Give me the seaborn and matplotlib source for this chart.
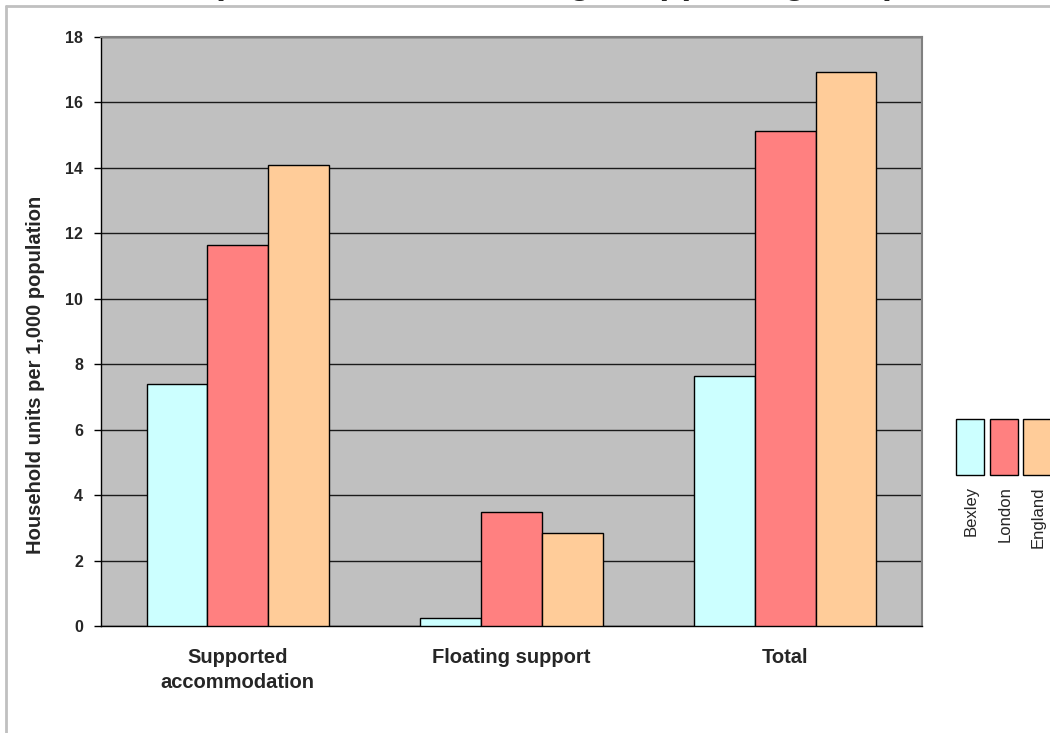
import matplotlib
matplotlib.use("Agg")
import matplotlib.pyplot as plt
from matplotlib.patches import Rectangle
from matplotlib.lines import Line2D
import pandas as pd
import seaborn as sns

# Household units per 1,000 population, by service type and area
categories = ["Supported\naccommodation", "Floating support", "Total"]
areas = ["Bexley", "London", "England"]
bexley = [7.40, 0.23, 7.64]
london = [11.65, 3.49, 15.14]
england = [14.10, 2.84, 16.92]
area_colors = ["#CCFFFF", "#FF8080", "#FFCC99"]
y_ticks = [0, 2, 4, 6, 8, 10, 12, 14, 16, 18]
title_text = "Comparison of all housing: Supporting People"
y_label = "Household units per 1,000 population"

sns.set_style("white")
plt.rcParams["font.family"] = ["Liberation Sans", "DejaVu Sans"]

rows = []
for area, vals in zip(areas, [bexley, london, england]):
    for cat, v in zip(categories, vals):
        rows.append({"category": cat, "area": area, "value": v})
df = pd.DataFrame(rows)
palette = dict(zip(areas, area_colors))

W, H = 1050, 733
fig = plt.figure(figsize=(W / 100, H / 100), dpi=100)
fig.patch.set_facecolor("white")

# chart-area frame
fig.add_artist(Line2D([6 / W, 1.0], [1 - 6 / H, 1 - 6 / H], transform=fig.transFigure,
                      color="#c0c0c0", lw=2))
fig.add_artist(Line2D([6 / W, 6 / W], [0.0, 1 - 6 / H], transform=fig.transFigure,
                      color="#c0c0c0", lw=2))

ax = fig.add_axes([101 / W, 1 - 626 / H, (922 - 101) / W, (626 - 37) / H])
ax.set_facecolor("#c0c0c0")

sns.barplot(data=df, x="category", y="value", hue="area", order=categories,
            hue_order=areas, palette=palette, width=2 / 3, gap=0, saturation=1,
            edgecolor="black", linewidth=1, legend=False, ax=ax, zorder=3)

ax.set_xlim(-0.5, len(categories) - 0.5)
ax.set_ylim(0, 18)
ax.set_yticks(y_ticks)
ax.set_yticklabels([str(t) for t in y_ticks], fontsize=11.5, fontweight="bold")
ax.yaxis.grid(True, color="#1a1a1a", lw=1, zorder=1)
ax.xaxis.grid(False)
ax.set_axisbelow(True)

ax.set_xticks(range(len(categories)))
ax.set_xticklabels(categories, fontsize=14.5, fontweight="bold", linespacing=1.4,
                   va="top")
ax.set_xticks([i - 0.5 for i in range(len(categories) + 1)], minor=True)
ax.tick_params(axis="x", which="major", length=0, pad=16)
ax.tick_params(axis="x", which="minor", length=8, width=1, color="black",
               direction="out")
ax.tick_params(axis="y", length=5, width=1, color="black", direction="out",
               left=True, pad=8)

ax.set_xlabel("")
ax.set_ylabel(y_label, fontsize=14.5, fontweight="bold")
ax.yaxis.set_label_coords(-56 / (922 - 101), (626 - 375) / (626 - 37))

for side in ["left", "bottom"]:
    ax.spines[side].set_color("black")
    ax.spines[side].set_linewidth(1)
for side in ["top", "right"]:
    ax.spines[side].set_color("#808080")
    ax.spines[side].set_linewidth(1.5)

# title, partly above the canvas
fig.text(136 / W, 1 + 7 / H, title_text, ha="left", va="baseline",
         fontsize=26, fontweight="bold")

# legend: boxes side by side with vertical labels beneath
box_left = [956, 990, 1023]
for x0, area, col in zip(box_left, areas, area_colors):
    fig.add_artist(Rectangle((x0 / W, 1 - 475 / H), 28 / W, 56 / H,
                             transform=fig.transFigure, facecolor=col,
                             edgecolor="black", lw=1))
    fig.text((x0 + 15) / W, 1 - 486 / H, area, rotation=90, ha="center",
             va="top", fontsize=12)

fig.savefig("out.png", dpi=100)
